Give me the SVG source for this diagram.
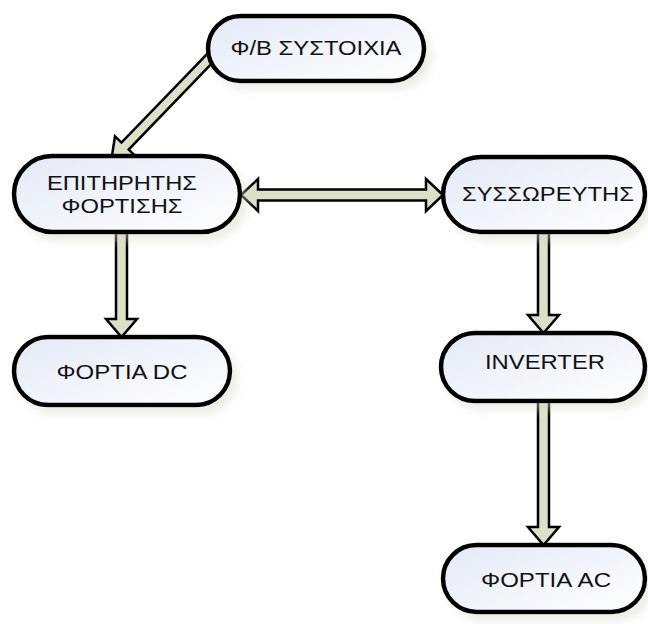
<svg xmlns="http://www.w3.org/2000/svg" width="648" height="624" viewBox="0 0 648 624">
<defs>
<linearGradient id="g" x1="0" y1="0" x2="1" y2="1">
<stop offset="0" stop-color="#e3e9f6"/>
<stop offset="1" stop-color="#ffffff"/>
</linearGradient>
<filter id="sh" x="-20%" y="-20%" width="150%" height="150%">
<feDropShadow dx="6" dy="7" stdDeviation="4" flood-color="#d8d8cc" flood-opacity="0.45"/>
</filter>
<style>
.n{fill:url(#g);stroke:#000;stroke-width:4.5;filter:url(#sh)}
.t{font-family:"Liberation Sans",Arial,sans-serif;font-size:21px;fill:#111;text-anchor:middle}
.a{fill:#dde0c8;stroke:#000;stroke-width:2.5;stroke-linejoin:miter}
</style>
</defs>
<rect width="648" height="624" fill="#fff"/>
<g id="connectors">
<polygon class="a" points="116,233 127,233 127,319 137,319 121.5,337 106,319 116,319"/>
<polygon class="a" points="538,233 549,233 549,315 559,315 543.5,333 528,315 538,315"/>
<polygon class="a" points="538,401 549,401 549,527 559,527 543.5,545 528,527 538,527"/>
<polygon class="a" points="241,195 258,179 258,189.5 426,189.5 426,179 443,195 426,211 426,200.5 258,200.5 258,211"/>
<polygon class="a" transform="translate(214,54) rotate(134)" points="0,-5 128,-5 128,-14 148,0 128,14 128,5 0,5"/>
</g>
<g id="n1"><rect class="n" x="208" y="16" width="216" height="65" rx="32.5"/><text class="t" x="316" y="55" textLength="171" lengthAdjust="spacingAndGlyphs">Φ/Β ΣΥΣΤΟΙΧΙΑ</text></g>
<g id="n2"><rect class="n" x="14" y="156" width="226" height="76" rx="38"/><text class="t" x="122" y="190" textLength="150" lengthAdjust="spacingAndGlyphs">ΕΠΙΤΗΡΗΤΗΣ</text><text class="t" x="122" y="213" textLength="121" lengthAdjust="spacingAndGlyphs">ΦΟΡΤΙΣΗΣ</text></g>
<g id="n3"><rect class="n" x="443" y="157" width="202" height="75" rx="37.5"/><text class="t" x="548" y="201" textLength="172" lengthAdjust="spacingAndGlyphs">ΣΥΣΣΩΡΕΥΤΗΣ</text></g>
<g id="n4"><rect class="n" x="14" y="337" width="216" height="68" rx="34"/><text class="t" x="122" y="379" textLength="131" lengthAdjust="spacingAndGlyphs">ΦΟΡΤΙΑ DC</text></g>
<g id="n5"><rect class="n" x="441" y="333" width="204" height="68" rx="34"/><text class="t" x="545" y="369" textLength="120" lengthAdjust="spacingAndGlyphs">INVERTER</text></g>
<g id="n6"><rect class="n" x="443" y="545" width="202" height="67" rx="33.5"/><text class="t" x="546" y="587" textLength="130" lengthAdjust="spacingAndGlyphs">ΦΟΡΤΙΑ AC</text></g>
</svg>
